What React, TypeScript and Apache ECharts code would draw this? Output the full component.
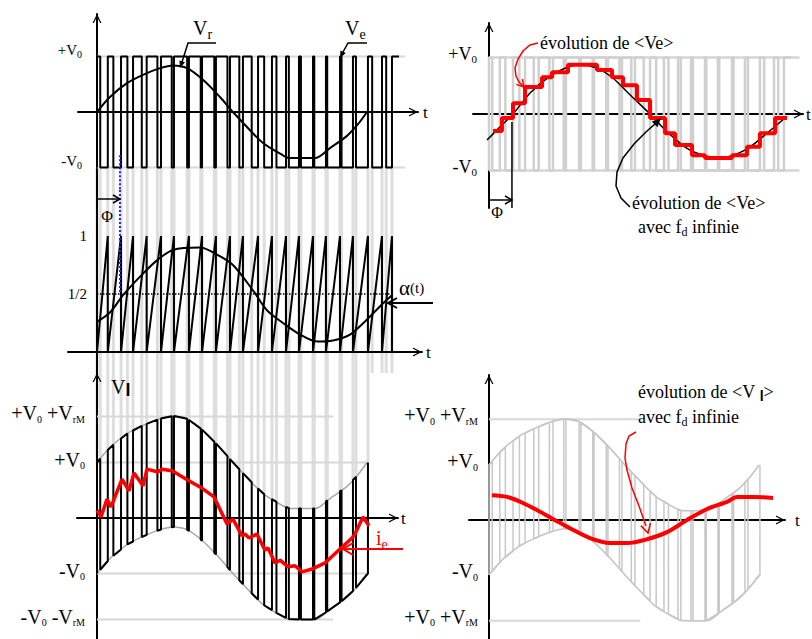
import React, { useEffect, useRef } from 'react';
import * as echarts from 'echarts';

// Time in ms (modulating sine period ≈ 20 ms, chopping period ≈ 1 ms); voltages in units of V0.

// Start of every chopping period (sawtooth resets)
const resetTimes = [0, 0.8, 1.78, 2.67, 3.68, 4.74, 5.7, 6.81, 7.78, 8.81, 9.85, 10.81, 11.93, 12.96, 14.0, 14.96, 16.0, 16.96, 18.0, 18.96, 20.07, 21.11, 21.85];
const waveEnd = 22.37;
// Fraction of each period during which Ve = +V0
const dutyCycles = [0.3, 0.42, 0.53, 0.64, 0.75, 0.83, 0.88, 0.9, 0.88, 0.82, 0.72, 0.58, 0.44, 0.32, 0.22, 0.14, 0.1, 0.09, 0.12, 0.2, 0.3, 0.42, 1];

// Reference voltage Vr (t, V/V0)
const vrSamples: [number, number][] = [
  [0, 0], [0.96, 0.27], [2.22, 0.52], [3.41, 0.67], [4.67, 0.79], [5.63, 0.84], [6.67, 0.79], [7.85, 0.58],
  [9.11, 0.27], [10.07, 0], [11.11, -0.27], [12.3, -0.56], [13.7, -0.77], [14.3, -0.83], [16.15, -0.83],
  [17.26, -0.65], [18.52, -0.43], [19.33, -0.22], [20.0, 0],
];
// Duty-cycle command alpha(t)
const alphaSamples: [number, number][] = [
  [0, 0.26], [0.96, 0.34], [1.93, 0.49], [3.19, 0.65], [4.44, 0.79], [5.63, 0.88], [7.63, 0.9], [8.89, 0.84],
  [10.07, 0.75], [11.56, 0.53], [12.59, 0.36], [13.78, 0.25], [15.04, 0.15], [16.3, 0.09], [17.48, 0.1],
  [18.74, 0.15], [20.0, 0.28], [21.19, 0.42], [21.85, 0.49],
];
const phaseShift = 1.7;
const halfLevel = 0.5;
const vrMax = 0.83;
const vlEnd = 20.07;

// Line current i_e
const ieSamples: [number, number][] = [
  [0, 0.14], [0.3, 0.02], [0.74, 0.34], [1.04, 0.2], [1.85, 0.7], [2.37, 0.49], [2.74, 0.81], [3.41, 0.58],
  [3.7, 0.88], [4.52, 0.83], [4.81, 0.88], [5.56, 0.85], [6.74, 0.68], [7.63, 0.56], [8.67, 0.38], [9.63, -0.11],
  [10.07, -0.02], [10.74, -0.32], [10.96, -0.29], [11.26, -0.36], [11.85, -0.29], [12.44, -0.58], [12.67, -0.54],
  [13.19, -0.81], [13.56, -0.76], [14.15, -0.88], [14.67, -0.86], [15.19, -0.97], [15.93, -0.92], [16.89, -0.81],
  [18.0, -0.56], [18.89, -0.36], [19.11, -0.29], [19.7, 0.02], [20.15, -0.14],
];
// <Ve> per chopping period: [start, level]
const avgSteps: [number, number][] = [
  [0.3, -0.3], [0.96, -0.07], [1.78, 0.19], [2.67, 0.48], [3.93, 0.65], [4.67, 0.74], [5.85, 0.87], [8.0, 0.78],
  [9.11, 0.65], [9.93, 0.51], [10.96, 0.25], [11.93, -0.07], [13.04, -0.34], [13.78, -0.55], [15.04, -0.73],
  [16.0, -0.78], [18.0, -0.73], [19.11, -0.58], [20.07, -0.34], [21.19, -0.07],
];
const avgEnd = 22.07;
// <Ve> with infinite chopping frequency
const avgIdeal: [number, number][] = [
  [-0.15, -0.46], [0.81, -0.23], [1.78, 0], [3.04, 0.37], [4.52, 0.67], [5.63, 0.81], [6.74, 0.87], [8.0, 0.81],
  [9.11, 0.65], [10.44, 0.34], [11.93, 0], [13.04, -0.28], [14.89, -0.64], [17.11, -0.78], [18.96, -0.64],
  [20.44, -0.37], [22.07, -0.04],
];
// <Vl> with infinite chopping frequency
const vlAvgSamples: [number, number][] = [
  [0.22, 0.45], [1.33, 0.42], [2.52, 0.31], [3.78, 0.15], [4.74, 0.02], [6.0, -0.15], [7.48, -0.33], [8.96, -0.42],
  [10.22, -0.42], [11.7, -0.35], [13.19, -0.22], [14.67, 0], [16.15, 0.2], [17.63, 0.33], [18.37, 0.42],
  [19.56, 0.42], [21.04, 0.4],
];

const levelsA = [1, -1];
const labelsA = ['+V|0', '-V|0'];
const levelsB = [1, halfLevel];
const labelsB = ['1', '1/2'];
const levelsC = [1 + vrMax, 1, -1, -1 - vrMax];
const labelsC = ['+V|0|+V|rM', '+V|0', '-V|0', '-V|0|-V|rM'];
const levelsE = [1, -1];
const labelsE = ['+V|0', '-V|0'];
const levelsD = [1 + vrMax, 1, -1, -1 - vrMax];
const labelsD = ['+V|0|+V|rM', '+V|0', '-V|0', '+V|0|+V|rM'];

const FONT = "'Liberation Serif', 'Times New Roman', Times, serif";
const SANS = "'Liberation Sans', Arial, sans-serif";
const RED = '#ff0000';
const EDGE_GRAY = '#dedede';
const ARROW = 'path://M5 0 L10 10 L8.5 10 L5 3 L1.5 10 L0 10 Z';

type Frame = { x0: number; y0: number; sx: number; sy: number; left: number; right: number; top: number; bottom: number };
// grid 0: Ve / Vr, 1: sawtooth / alpha, 2: Vl / ie, 3: <Ve>, 4: <Vl>
const frames: Frame[] = [
  { x0: 97, y0: 112, sx: 13.5, sy: 55.5, left: 78, right: 418, top: 14, bottom: 190 },
  { x0: 97, y0: 352, sx: 13.5, sy: 116, left: 68, right: 422, top: 190, bottom: 373 },
  { x0: 97, y0: 518, sx: 13.5, sy: 55.5, left: 77, right: 398, top: 373, bottom: 639 },
  { x0: 489, y0: 114, sx: 13.5, sy: 56.5, left: 473, right: 803, top: 23, bottom: 208 },
  { x0: 489, y0: 520, sx: 13.5, sy: 55, left: 469, right: 785, top: 375, bottom: 639 },
];
const xr = (f: Frame) => [(f.left - f.x0) / f.sx, (f.right - f.x0) / f.sx];
const yr = (f: Frame) => [(f.y0 - f.bottom) / f.sy, (f.y0 - f.top) / f.sy];

function interp(samples: [number, number][], t: number): number {
  if (t <= samples[0][0]) return samples[0][1];
  for (let i = 1; i < samples.length; i++) {
    if (t <= samples[i][0]) {
      const [t0, v0] = samples[i - 1];
      const [t1, v1] = samples[i];
      return v0 + ((v1 - v0) * (t - t0)) / (t1 - t0);
    }
  }
  return samples[samples.length - 1][1];
}
const vr = (t: number) => interp(vrSamples, t);

const periods = resetTimes.map((t0, k) => {
  const t1 = k + 1 < resetTimes.length ? resetTimes[k + 1] : waveEnd;
  return { t0, t1, tf: t0 + dutyCycles[k] * (t1 - t0) };
});
const edges = periods.flatMap((p) => (p.tf < p.t1 - 1e-9 ? [p.t0, p.tf] : [p.t0]));

const vePoints: number[][] = [];
periods.forEach((p) => {
  vePoints.push([p.t0, -1], [p.t0, 1], [p.tf, 1]);
  if (p.tf < p.t1 - 1e-9) vePoints.push([p.tf, -1], [p.t1, -1]);
});

const sawPoints: number[][] = [[resetTimes[0], 0]];
for (let k = 1; k < resetTimes.length; k++) sawPoints.push([resetTimes[k], 1], [resetTimes[k], 0]);

const vlPoints: number[][] = [];
periods.filter((p) => p.t0 < vlEnd).forEach((p) => {
  const tf = Math.min(p.tf, vlEnd);
  const t1 = Math.min(p.t1, vlEnd);
  vlPoints.push([p.t0, -1 + vr(p.t0)], [p.t0, 1 + vr(p.t0)], [tf, 1 + vr(tf)], [tf, -1 + vr(tf)], [t1, -1 + vr(t1)]);
});
vlPoints.push([vlEnd, 1 + vr(vlEnd)]);

const upperEnv = vrSamples.map(([t, v]) => [t, 1 + v]);
const lowerEnv = vrSamples.map(([t, v]) => [t, -1 + v]);

function labelText(spec: string) {
  const parts = spec.split('|');
  let s = '';
  parts.forEach((p, i) => {
    if (i % 2 === 0) s += `{m|${i > 0 ? ' ' : ''}${p}}`;
    else s += `{s|${p}}`;
  });
  return s;
}
function subRich(main: number, sub: number, shift: number, extra: Record<string, any> = {}) {
  return {
    m: { fontSize: main, fontFamily: FONT, color: '#000', fill: '#000', lineHeight: sub + 2 * shift },
    s: { fontSize: sub, fontFamily: FONT, color: '#000', fill: '#000', lineHeight: sub, verticalAlign: 'bottom' },
    ...extra,
  };
}

function xAxisFor(i: number, nameGap: number) {
  const [min, max] = xr(frames[i]);
  return {
    type: 'value', gridIndex: i, min, max,
    axisLine: { onZero: true, symbol: ['none', ARROW], symbolSize: [10, 9], symbolOffset: [0, -4.5], lineStyle: { color: '#000', width: 2 } },
    axisTick: { show: false }, axisLabel: { show: false }, splitLine: { show: false },
    name: 't', nameLocation: 'end', nameGap,
    nameTextStyle: { fontFamily: FONT, fontSize: 17, color: '#000' },
  };
}
// labelRight: pixel x of the right edge of the tick labels
function yAxisFor(i: number, arrow: boolean, values: number[], texts: string[], size: number, sub: number, labelRight: number, lift: number) {
  const f = frames[i];
  const [min, max] = yr(f);
  return {
    type: 'value', gridIndex: i, min, max,
    axisLine: { onZero: true, symbol: arrow ? ['none', ARROW] : ['none', 'none'], symbolSize: [10, 9], symbolOffset: [0, -4.5], lineStyle: { color: '#000', width: 2 } },
    axisTick: { show: false },
    splitLine: { show: false },
    axisLabel: {
      customValues: values, margin: f.left - labelRight, padding: [0, 0, lift, 0],
      formatter: (v: number) => {
        const idx = values.findIndex((x) => Math.abs(x - v) < 1e-6);
        return idx < 0 ? '' : labelText(texts[idx]);
      },
      rich: subRich(size, sub, Math.round(size * 0.3)),
    },
  };
}

function line(grid: number, data: number[][], color: string, width: number, extra: Record<string, any> = {}) {
  const { lineStyle, ...rest } = extra;
  return {
    type: 'line', xAxisIndex: grid, yAxisIndex: grid, data, symbol: 'none', showSymbol: false, silent: true,
    animation: false, ...rest, lineStyle: { color, width, ...(lineStyle || {}) },
  };
}
function verticals(grid: number, data: number[][], color: string, width: number, z = 1) {
  return {
    type: 'custom', xAxisIndex: grid, yAxisIndex: grid, silent: true, z,
    encode: { x: 0, y: [1, 2] },
    data,
    renderItem: (_p: any, api: any) => {
      const a = api.coord([api.value(0), api.value(1)]);
      const b = api.coord([api.value(0), api.value(2)]);
      return { type: 'line', shape: { x1: a[0], y1: a[1], x2: b[0], y2: b[1] }, style: { stroke: color, lineWidth: width } };
    },
  };
}

// ---------- annotation helpers ----------
function openHead(tip: number[], from: number[], len: number, half: number, color: string, lw: number) {
  const dx = tip[0] - from[0], dy = tip[1] - from[1];
  const d = Math.hypot(dx, dy), ux = dx / d, uy = dy / d;
  const bx = tip[0] - ux * len, by = tip[1] - uy * len;
  return { type: 'polyline', z: 100, shape: { points: [[bx - uy * half, by + ux * half], tip, [bx + uy * half, by - ux * half]] }, style: { stroke: color, lineWidth: lw, fill: null } };
}
function filledHead(tip: number[], from: number[], len: number, half: number, color: string) {
  const dx = tip[0] - from[0], dy = tip[1] - from[1];
  const d = Math.hypot(dx, dy), ux = dx / d, uy = dy / d;
  const bx = tip[0] - ux * len, by = tip[1] - uy * len;
  return { type: 'polygon', z: 100, shape: { points: [[bx - uy * half, by + ux * half], tip, [bx + uy * half, by - ux * half]] }, style: { fill: color } };
}
function pline(points: number[][], color: string, lw: number) {
  return { type: 'polyline', z: 100, shape: { points }, style: { stroke: color, lineWidth: lw, fill: null } };
}
function rtext(x: number, y: number, text: string, rich: any, align = 'left', color = '#000') {
  return { type: 'text', z: 100, x, y, style: { text, rich, align, verticalAlign: 'middle', fill: color, font: `16px ${FONT}` } };
}
function colorRich(rich: any, color: string) {
  const out: any = {};
  Object.keys(rich).forEach((k) => (out[k] = { ...rich[k], color, fill: color }));
  return out;
}

function buildOption() {
  const aMin = yr(frames[0])[0];
  const bMax = yr(frames[1])[1];
  const cMax = yr(frames[2])[1];

  const series: any[] = [
    // ---- grid 0: Ve and Vr
    verticals(0, edges.map((t) => [t, -1, aMin]), EDGE_GRAY, 3, 0),
    line(0, [[0, 1], [22.8, 1]], '#d8d8d8', 2),
    line(0, [[0, -1], [22.8, -1]], '#d8d8d8', 2),
    line(0, vePoints, '#000', 2),
    line(0, vrSamples, '#000', 2, { smooth: 0.3 }),
    line(0, [[phaseShift, -0.78], [phaseShift, aMin]], '#1f1fff', 2, { lineStyle: { type: 'dotted' } }),

    // ---- grid 1: sawtooth and alpha(t)
    verticals(1, edges.map((t) => [t, yr(frames[1])[0], bMax]), EDGE_GRAY, 3, 0),
    line(1, [[0, halfLevel], [21.7, halfLevel]], '#000', 1.5, { lineStyle: { type: 'dotted' } }),
    line(1, sawPoints, '#000', 2),
    line(1, alphaSamples, '#000', 2, { smooth: 0.3 }),
    line(1, [[phaseShift, bMax], [phaseShift, halfLevel]], '#1f1fff', 2, { lineStyle: { type: 'dotted' } }),

    // ---- grid 2: Vl and ie
    verticals(2, edges.filter((t) => t <= vlEnd + 1e-9).map((t) => [t, cMax, 1 + vr(t)]), EDGE_GRAY, 3, 0),
    line(2, [[0, 1 + vrMax], [17.5, 1 + vrMax]], '#d8d8d8', 2),
    line(2, [[0, 1], [20, 1]], '#d8d8d8', 2),
    line(2, [[0, -1], [20, -1]], '#d8d8d8', 2),
    line(2, [[0, -1 - vrMax], [17.5, -1 - vrMax]], '#d8d8d8', 2),
    line(2, upperEnv, '#a8a8a8', 1.5, { smooth: 0.3 }),
    line(2, lowerEnv, '#a8a8a8', 1.5, { smooth: 0.3 }),
    line(2, vlPoints, '#000', 2),
    line(2, ieSamples, RED, 3.5),

    // ---- grid 3: <Ve>
    line(3, [[0, 1], [23, 1]], '#d4d4d4', 2.5),
    line(3, [[0, -1], [23, -1]], '#d4d4d4', 2.5),
    line(3, vePoints, '#d0d0d0', 2.5),
    line(3, avgIdeal, '#000', 1.5, { smooth: 0.3 }),
    line(3, [...avgSteps, [avgEnd, avgSteps[avgSteps.length - 1][1]]], RED, 4, { step: 'end' }),
    line(3, [[phaseShift, -0.14], [phaseShift, yr(frames[3])[0]]], '#000', 1.5),

    // ---- grid 4: <Vl>
    line(4, [[0, 1 + vrMax], [11.2, 1 + vrMax]], '#d8d8d8', 2),
    line(4, [[0, -1 - vrMax], [11.2, -1 - vrMax]], '#d8d8d8', 2),
    line(4, upperEnv, '#c4c4c4', 1.5, { smooth: 0.3 }),
    line(4, lowerEnv, '#c4c4c4', 1.5, { smooth: 0.3 }),
    line(4, vlPoints, '#c8c8c8', 1.5),
    line(4, vlAvgSamples, RED, 4, { smooth: 0.3 }),
  ];

  const r20 = subRich(20, 14, 6);
  const lRich = {
    m: { fontSize: 20, fontFamily: FONT, fill: '#000', color: '#000', lineHeight: 24 },
    b: { fontSize: 18, fontFamily: SANS, fontWeight: 'bold', fill: '#000', color: '#000', lineHeight: 14, verticalAlign: 'bottom' },
  };
  const evoRich = {
    m: { fontSize: 18, fontFamily: FONT, fill: '#000', color: '#000', lineHeight: 22 },
    s: { fontSize: 12, fontFamily: FONT, fill: '#000', color: '#000', lineHeight: 12, verticalAlign: 'bottom' },
    b: { fontSize: 14, fontFamily: SANS, fontWeight: 'bold', fill: '#000', color: '#000', lineHeight: 12, verticalAlign: 'bottom' },
  };
  const alphaRich = {
    a: { fontSize: 21, fontFamily: FONT, fill: '#000', color: '#000', lineHeight: 22 },
    p: { fontSize: 15, fontFamily: FONT, fill: '#000', color: '#000', lineHeight: 22 },
  };
  const phiRich = { m: { fontSize: 16, fontFamily: FONT, fill: '#000', color: '#000' } };

  const graphic: any[] = [
    // Vr / Ve leaders
    rtext(193, 28, '{m|V}{s|r}', r20),
    pline([[216, 43], [188, 43], [182, 62]], '#000', 1.5),
    filledHead([180, 68], [186, 50], 7, 3, '#000'),
    rtext(345, 28, '{m|V}{s|e}', r20),
    pline([[367, 43], [348, 43], [343, 52]], '#000', 1.5),
    filledHead([340, 58], [346, 46], 7, 3, '#000'),

    // phase shift in the sawtooth panel
    pline([[97, 199], [120, 199]], '#000', 1.5),
    openHead([120, 199], [97, 199], 7, 4, '#000', 1.5),
    rtext(107, 216, '{m|Φ}', phiRich, 'center'),
    rtext(399, 288, '{a|α}{p|(t)}', alphaRich),
    pline([[433, 303], [388, 303]], '#000', 2),
    openHead([388, 303], [433, 303], 9, 5, '#000', 2),

    // Vl / ie
    rtext(111, 387, '{m|V}{b|l}', lRich),
    rtext(376, 538, '{m|i}{s|e}', colorRich(r20, RED)),
    pline([[403, 549], [343, 549]], RED, 2),
    openHead([343, 549], [403, 549], 10, 6, RED, 2),

    // <Ve> panel
    rtext(540, 43, '{m|évolution de <Ve>}', evoRich),
    pline([[538, 43], [530, 45], [523, 51], [518, 59], [515, 68], [516, 76], [519, 82], [523, 86]], RED, 1.5),
    openHead([524, 87], [517, 79], 7, 4, RED, 1.5),
    rtext(632, 203, '{m|évolution de <Ve>}', evoRich),
    rtext(638, 227, '{m|avec f}{s|d}{m| infinie}', evoRich),
    pline([[630, 207], [621, 198], [616, 186], [617, 172], [623, 158], [634, 144], [647, 131], [655, 124]], '#000', 1.5),
    filledHead([661, 118], [652, 127], 9, 4, '#000'),
    pline([[490, 200], [512, 200]], '#000', 1.5),
    openHead([512, 200], [490, 200], 7, 4, '#000', 1.5),
    rtext(497, 212, '{m|Φ}', phiRich, 'center'),

    // <Vl> panel
    rtext(638, 392, '{m|évolution de <V }{b|l}{m|>}', evoRich),
    rtext(638, 417, '{m|avec f}{s|d}{m| infinie}', evoRich),
    pline([[636, 432], [629, 436], [626, 444], [625, 458], [627, 470], [632, 488], [639, 506], [646, 526]], RED, 1.5),
    openHead([648, 533], [645, 522], 9, 5, RED, 1.5),
  ];

  return {
    animation: false,
    backgroundColor: '#ffffff',
    grid: frames.map((f) => ({ left: f.left, top: f.top, width: f.right - f.left, height: f.bottom - f.top, containLabel: false })),
    xAxis: [xAxisFor(0, 5), xAxisFor(1, 4), xAxisFor(2, 3), xAxisFor(3, 3), xAxisFor(4, 10)],
    yAxis: [
      yAxisFor(0, true, levelsA, labelsA, 15, 10, 82, 14),
      yAxisFor(1, false, levelsB, labelsB, 15, 10, 87, 0),
      yAxisFor(2, true, levelsC, labelsC, 20, 10, 85, 6),
      yAxisFor(3, true, levelsE, labelsE, 18, 11, 477, 8),
      yAxisFor(4, true, levelsD, labelsD, 20, 10, 478, 8),
    ],
    series,
    graphic,
  };
}

export default function App() {
  const ref = useRef<HTMLDivElement>(null);
  useEffect(() => {
    const chart = echarts.init(ref.current!, null, { renderer: 'svg' });
    chart.setOption(buildOption() as any);
    return () => chart.dispose();
  }, []);
  return (
    <div
      ref={ref}
      style={{ position: 'fixed', left: 0, top: 0, width: 812, height: 639, background: '#fff' }}
    />
  );
}
